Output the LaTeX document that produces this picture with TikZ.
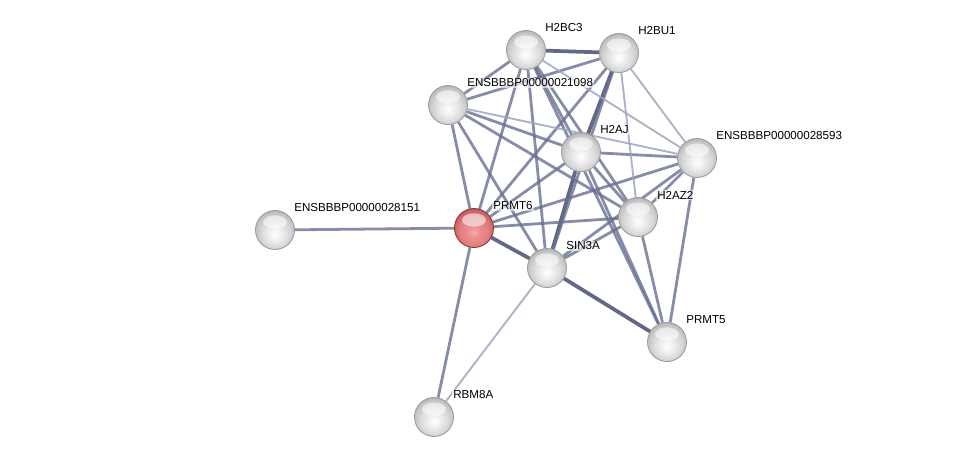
\documentclass[tikz,border=0pt]{standalone}
\usepackage{fontspec}
\setmainfont{Liberation Sans}
\usepackage{xcolor}
\usepackage{tikz}
\usetikzlibrary{calc, backgrounds}

\definecolor{edgedark}{RGB}{70,78,112}
\definecolor{edgemid}{RGB}{104,112,146}
\definecolor{edgelight}{RGB}{158,164,190}
\definecolor{redcore}{RGB}{236,140,140}
\definecolor{redrim}{RGB}{170,60,62}

\pgfdeclareradialshading{greyball}{\pgfpoint{0bp}{-6bp}}{color(0bp)=(white); color(8bp)=(gray!12); color(18bp)=(gray!30); color(26bp)=(gray!50); color(31bp)=(gray!75); color(50bp)=(gray!80)}
\pgfdeclareradialshading{redball}{\pgfpoint{0bp}{-6bp}}{color(0bp)=(redcore!70!white); color(8bp)=(redcore); color(18bp)=(redcore!85!redrim); color(26bp)=(redcore!45!redrim); color(31bp)=(redrim); color(50bp)=(redrim)}

\tikzset{
  ball/.style={circle, minimum size=29.25pt, inner sep=0pt, shading=greyball, draw=gray!80, line width=0.6pt,
    path picture={\fill[white, opacity=0.55] ($(path picture bounding box.center)+(0,-8)$) ellipse (9pt and 5pt);}},
  redball/.style={ball, shading=redball, draw=redrim!80!black},
  lbl/.style={anchor=west, inner sep=1pt, fill=white, fill opacity=0.6, text opacity=1,
    font=\fontsize{8.7}{10}\selectfont},
  strong/.style={draw=edgedark, line width=2.8pt, draw opacity=0.85},
  mid/.style={draw=edgemid, line width=2.1pt, draw opacity=0.8},
  weak/.style={draw=edgelight, line width=1.4pt, draw opacity=0.85}
}

\begin{document}
\begin{tikzpicture}[x=0.75pt, y=-0.75pt]
    \useasboundingbox (0,0) rectangle (976,461);

    % proteins
    \foreach \n/\x/\y/\t in {h2bc3/526/50/H2BC3, h2bu1/619/53/H2BU1, ens21098/448/105/ENSBBBP00000021098,
        h2aj/581/152/H2AJ, ens28593/697/158/ENSBBBP00000028593, ens28151/275/230/ENSBBBP00000028151,
        h2az2/638/217/H2AZ2, sin3a/547/268/SIN3A, prmt5/667/342/PRMT5, rbm8a/434/417/RBM8A} {
        \node[ball] (\n) at (\x,\y) {};
        \node[lbl] (\n-t) at (\x+17.7,\y-22) {\t};
    }
    \node[redball] (prmt6) at (474,228) {};
    \node[lbl] (prmt6-t) at (491.7,206) {PRMT6};

    % interactions
    \begin{scope}[on background layer]
        \foreach \a/\b in {sin3a/prmt6, sin3a/prmt5, h2bu1/h2aj, h2aj/sin3a, h2bc3/h2bu1}
            \draw[strong] (\a) -- (\b);
        \foreach \a/\b in {h2bc3/ens21098, h2bc3/h2aj, h2bc3/sin3a, h2bc3/h2az2, h2bc3/prmt6, h2bc3/prmt5,
            h2bu1/ens21098, h2bu1/sin3a, h2bu1/prmt6, ens21098/h2aj, ens21098/h2az2, ens21098/sin3a,
            ens21098/prmt6, h2aj/ens28593, h2aj/h2az2, h2aj/prmt6, h2aj/prmt5, ens28593/h2az2,
            ens28593/prmt6, ens28593/sin3a, ens28593/prmt5, h2az2/sin3a, h2az2/prmt6, h2az2/prmt5,
            prmt6/rbm8a, prmt6/ens28151}
            \draw[mid] (\a) -- (\b);
        \foreach \a/\b in {h2bc3/ens28593, h2bu1/ens28593, ens21098/ens28593, sin3a/rbm8a, h2bu1/h2az2}
            \draw[weak] (\a) -- (\b);
    \end{scope}
\end{tikzpicture}
\end{document}
